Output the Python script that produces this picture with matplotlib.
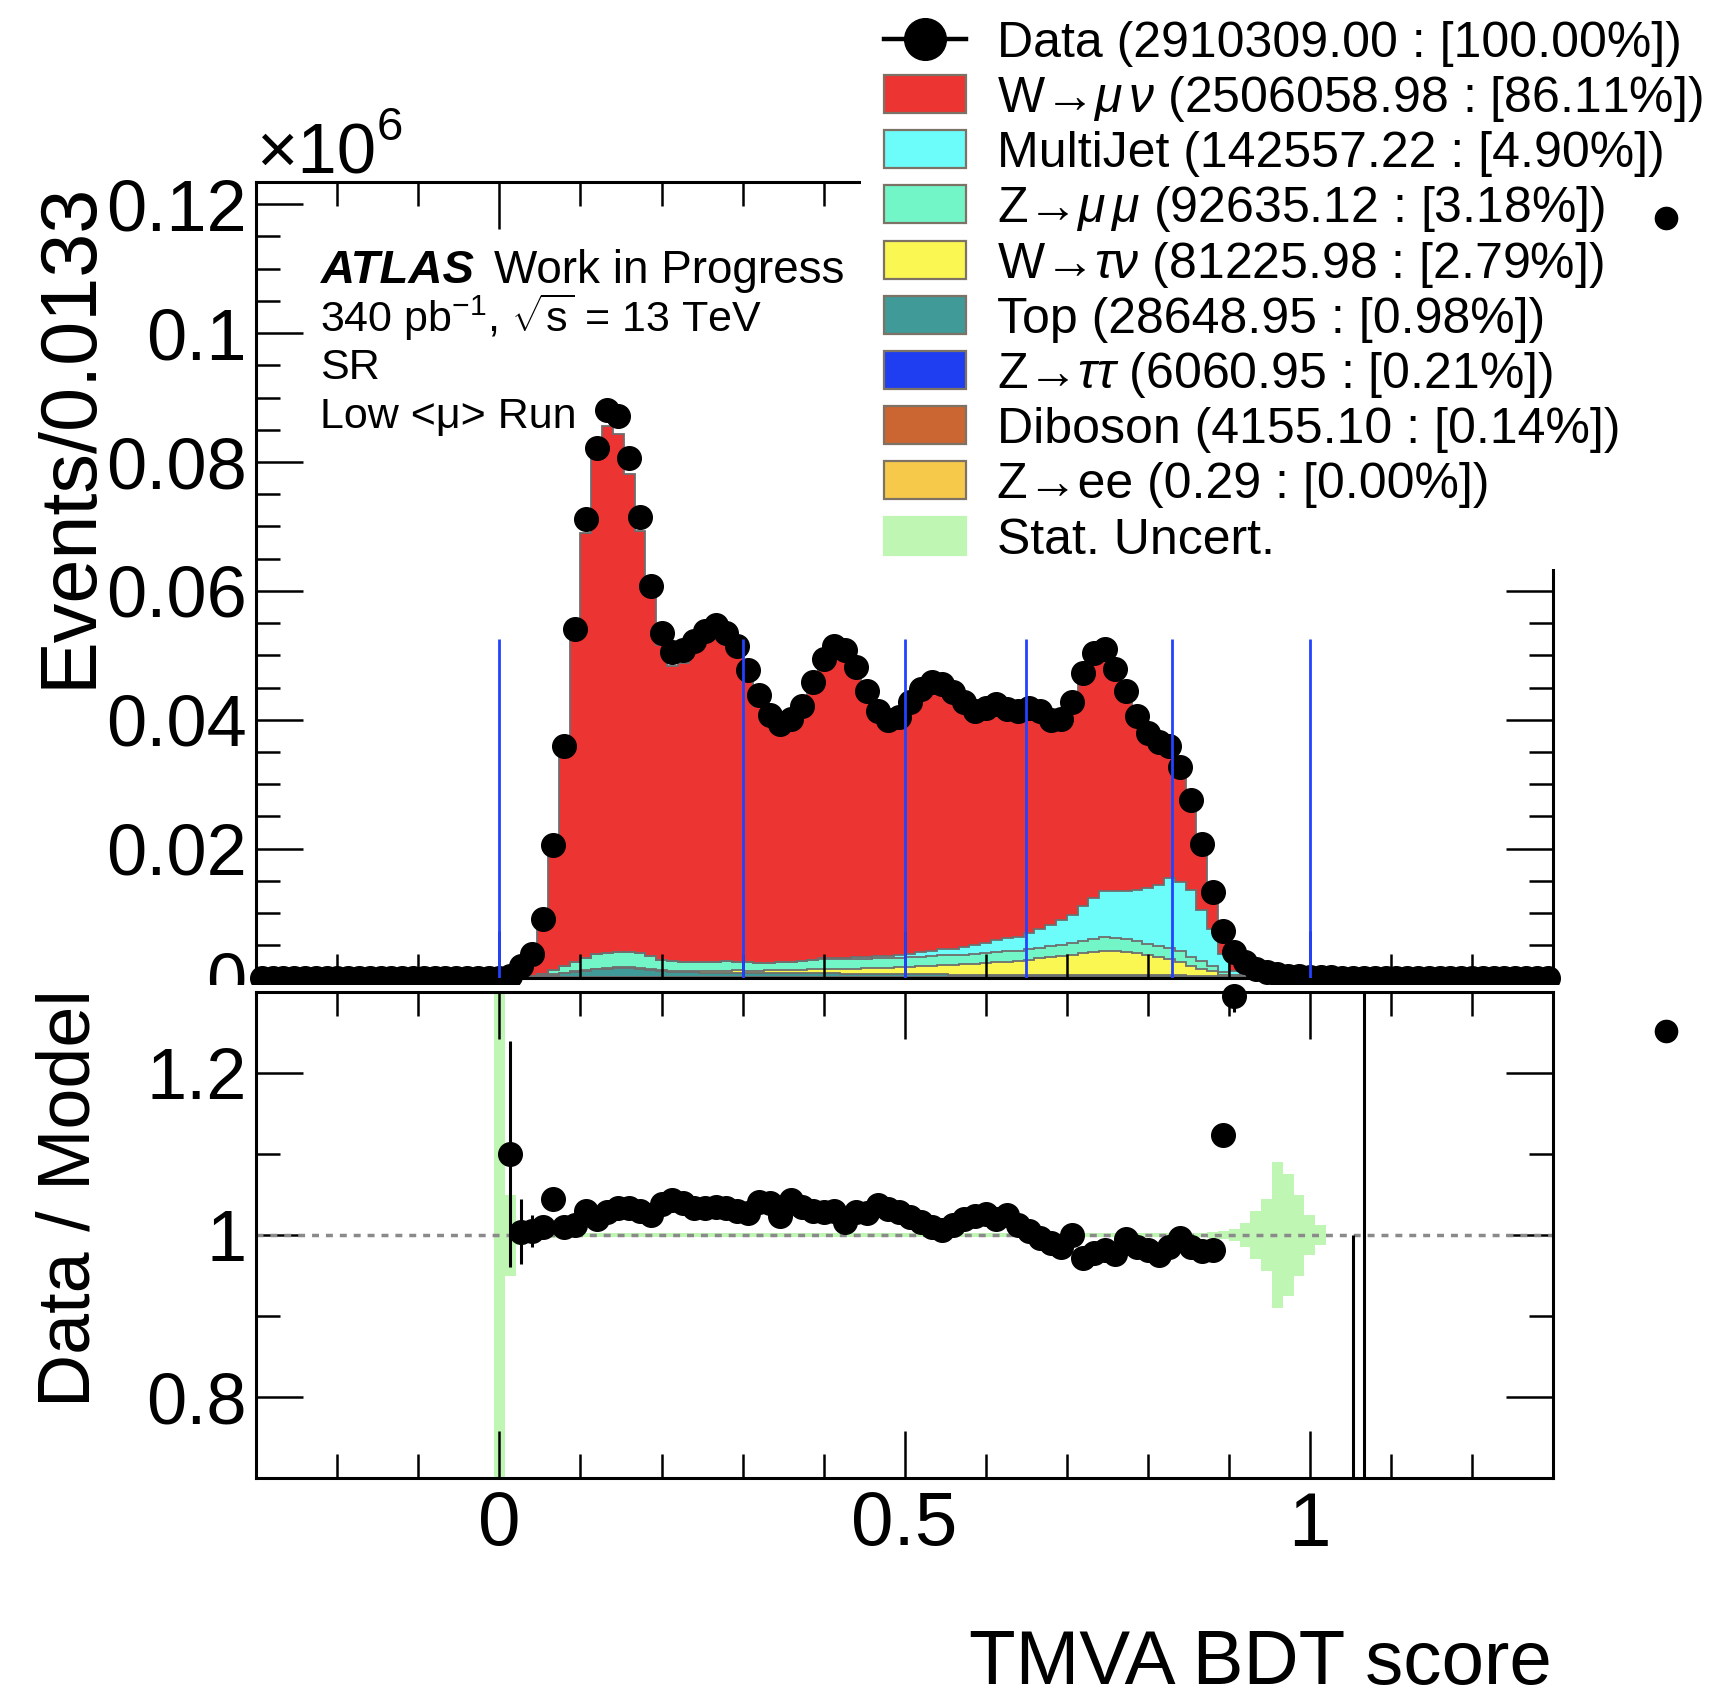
import numpy as np
import matplotlib
matplotlib.use("Agg")
import matplotlib.pyplot as plt
from matplotlib.patches import Rectangle
from matplotlib.lines import Line2D
from matplotlib.ticker import MultipleLocator, FixedLocator

plt.rcParams['font.family'] = ['Liberation Sans', 'DejaVu Sans']
plt.rcParams['mathtext.fontset'] = 'custom'
plt.rcParams['mathtext.rm'] = 'Liberation Sans'
plt.rcParams['mathtext.it'] = 'Liberation Sans:italic'
plt.rcParams['mathtext.bf'] = 'Liberation Sans:bold'

# Binning of the BDT score histogram
x_lo, x_hi, n_bins = -0.3, 1.3, 120
first_bin = 22  # bins below this are empty

# Bin contents (x1e6 events) for bins 22..99
data = [0.0, 0.0003, 0.0018, 0.0036, 0.0091, 0.0206, 0.0360, 0.0541, 0.0711, 0.0822,
        0.0880, 0.0871, 0.0807, 0.0714, 0.0608, 0.0535, 0.0505, 0.0508, 0.0523, 0.0538,
        0.0547, 0.0535, 0.0514, 0.0478, 0.0438, 0.0408, 0.0393, 0.0401, 0.0422, 0.0458,
        0.0495, 0.0514, 0.0508, 0.0482, 0.0445, 0.0414, 0.0399, 0.0405, 0.0428, 0.0448,
        0.0458, 0.0456, 0.0443, 0.0427, 0.0414, 0.0419, 0.0424, 0.0417, 0.0414, 0.0418,
        0.0414, 0.0400, 0.0401, 0.0428, 0.0472, 0.0503, 0.0510, 0.0479, 0.0445, 0.0406,
        0.0380, 0.0365, 0.0359, 0.0327, 0.0275, 0.0207, 0.0133, 0.0073, 0.0039, 0.0024,
        0.0013, 0.0008, 0.0005, 0.0003, 0.0002, 0.0001, 0.0001, 0.00005]

wmunu = [0.00002, 0.00027, 0.0018, 0.00337, 0.00845, 0.01854, 0.03377, 0.05109, 0.06604, 0.07699,
         0.08179, 0.0803, 0.0741, 0.0655, 0.0560, 0.04882, 0.04589, 0.0464, 0.04816, 0.04966,
         0.05043, 0.04929, 0.04747, 0.04417, 0.03977, 0.0369, 0.03605, 0.03605, 0.03814, 0.0417,
         0.04513, 0.04683, 0.04698, 0.04367, 0.04011, 0.03655, 0.03524, 0.03583, 0.03821, 0.04012,
         0.04118, 0.04096, 0.0393, 0.03709, 0.03536, 0.03547, 0.0358, 0.03461, 0.03464, 0.03472,
         0.0341, 0.03223, 0.03184, 0.03313, 0.03754, 0.03906, 0.03856, 0.03571, 0.03125, 0.02765,
         0.02483, 0.02307, 0.02098, 0.01806, 0.01435, 0.01065, 0.00599, 0.00279, 0.00192, 0.00085,
         0.00033, 0.0002, 0.0001, 0.00005, 0.00002, 0.00001, 0.000005, 0.0]

multijet = [0.0, 0.0, 0.0, 0.0, 0.0, 0.0, 0.0, 0.0, 0.0, 0.0,
            0.0, 0.0, 0.0, 0.0, 0.0, 0.0, 0.0, 0.0, 0.0, 0.0,
            0.0, 0.0, 0.0, 0.0, 0.0, 0.0, 0.0, 0.0, 0.0001, 0.0001,
            0.0002, 0.0002, 0.0002, 0.0003, 0.0003, 0.0004, 0.0004, 0.0005, 0.0005, 0.0007,
            0.0008, 0.0009, 0.0010, 0.0012, 0.0014, 0.0016, 0.0018, 0.0020, 0.0021, 0.0025,
            0.0028, 0.0033, 0.0038, 0.0043, 0.0054, 0.0064, 0.0071, 0.0072, 0.0075, 0.0079,
            0.0086, 0.0095, 0.0109, 0.0107, 0.0103, 0.0079, 0.0057, 0.0028, 0.0006, 0.0002,
            0.0001, 0.0, 0.0, 0.0, 0.0, 0.0, 0.0, 0.0]

zmumu = [0.0, 0.0, 0.00002, 0.0001, 0.0003, 0.0006, 0.0011, 0.0014, 0.0018, 0.0022,
         0.0023, 0.0024, 0.0024, 0.0023, 0.0020, 0.0016, 0.0015, 0.0014, 0.0014, 0.0014,
         0.0014, 0.0014, 0.0013, 0.0013, 0.0012, 0.0012, 0.0012, 0.0012, 0.0013, 0.0014,
         0.0015, 0.0015, 0.0015, 0.0015, 0.0015, 0.0015, 0.0015, 0.0015, 0.0015, 0.0015,
         0.0015, 0.0015, 0.0015, 0.0015, 0.0015, 0.0015, 0.0016, 0.0016, 0.0016, 0.0016,
         0.0017, 0.0017, 0.0017, 0.0018, 0.0019, 0.0020, 0.0021, 0.0021, 0.0020, 0.0019,
         0.0018, 0.0017, 0.0017, 0.0016, 0.0014, 0.0012, 0.0009, 0.0005, 0.0002, 0.0001,
         0.00005, 0.0, 0.0, 0.0, 0.0, 0.0, 0.0, 0.0]

wtaunu = [0.0, 0.0, 0.0, 0.00001, 0.00003, 0.0001, 0.0001, 0.0001, 0.00012, 0.00013,
          0.00014, 0.00015, 0.00015, 0.00015, 0.00015, 0.00015, 0.00016, 0.00018, 0.0002, 0.00025,
          0.0003, 0.00033, 0.00036, 0.0004, 0.00043, 0.00046, 0.0005, 0.00053, 0.00056, 0.0006,
          0.00065, 0.0007, 0.00075, 0.0008, 0.00085, 0.0009, 0.00095, 0.0010, 0.0011, 0.0012,
          0.0013, 0.0014, 0.0015, 0.0016, 0.0017, 0.0018, 0.0019, 0.0020, 0.0021, 0.0023,
          0.0025, 0.0027, 0.0029, 0.0031, 0.0033, 0.0035, 0.0037, 0.0037, 0.0036, 0.0034,
          0.0031, 0.0028, 0.0025, 0.0021, 0.0016, 0.0011, 0.0007, 0.0003, 0.0001, 0.00005,
          0.00002, 0.0, 0.0, 0.0, 0.0, 0.0, 0.0, 0.0]

top = [0.0, 0.0, 0.00002, 0.00005, 0.00015, 0.0003, 0.0005, 0.0007, 0.0009, 0.0011,
       0.0012, 0.0013, 0.0013, 0.0012, 0.0010, 0.0008, 0.0007, 0.0007, 0.0007, 0.0006,
       0.0006, 0.0006, 0.0006, 0.0005, 0.0005, 0.0005, 0.0005, 0.0005, 0.0005, 0.0005,
       0.0005, 0.0005, 0.0004, 0.0004, 0.0004, 0.0004, 0.0004, 0.0004, 0.0004, 0.0004,
       0.0004, 0.0004, 0.0003, 0.0003, 0.0003, 0.0003, 0.0003, 0.0003, 0.0003, 0.0003,
       0.0003, 0.0003, 0.0003, 0.0003, 0.0003, 0.0003, 0.0003, 0.0002, 0.0002, 0.0002,
       0.0002, 0.0002, 0.0002, 0.0002, 0.0001, 0.0001, 0.0001, 0.00005, 0.00002, 0.0,
       0.0, 0.0, 0.0, 0.0, 0.0, 0.0, 0.0, 0.0]

ztautau = [0.0, 0.0, 0.0, 0.00005, 0.00005, 0.0001, 0.0001, 0.0001, 0.0001, 0.0001,
           0.0001, 0.0001, 0.0001, 0.0001, 0.0001, 0.0001, 0.0001, 0.0001, 0.0001, 0.0001,
           0.0001, 0.0001, 0.0001, 0.0001, 0.0001, 0.0001, 0.0001, 0.0001, 0.0001, 0.0001,
           0.0001, 0.0001, 0.0001, 0.0001, 0.0001, 0.0001, 0.0001, 0.0001, 0.0001, 0.0001,
           0.0001, 0.0001, 0.0001, 0.0001, 0.0001, 0.0001, 0.0001, 0.0001, 0.0001, 0.0001,
           0.0001, 0.0001, 0.0001, 0.0001, 0.0001, 0.0001, 0.0001, 0.0001, 0.0001, 0.0001,
           0.0001, 0.0001, 0.0001, 0.0001, 0.0001, 0.0001, 0.0001, 0.00005, 0.00005, 0.0,
           0.0, 0.0, 0.0, 0.0, 0.0, 0.0, 0.0, 0.0]

diboson = [0.0, 0.0, 0.0, 0.0, 0.00003, 0.00007, 0.00007, 0.00007, 0.00007, 0.00007,
           0.00007, 0.00007, 0.00007, 0.00007, 0.00007, 0.00007, 0.00007, 0.00007, 0.00007, 0.00007,
           0.00007, 0.00007, 0.00007, 0.00007, 0.00007, 0.00007, 0.00007, 0.00007, 0.00007, 0.00007,
           0.00007, 0.00007, 0.00007, 0.00007, 0.00007, 0.00007, 0.00007, 0.00007, 0.00007, 0.00007,
           0.00007, 0.00007, 0.00007, 0.00007, 0.00007, 0.00007, 0.00007, 0.00007, 0.00007, 0.00007,
           0.00007, 0.00007, 0.00007, 0.00007, 0.00007, 0.00007, 0.00007, 0.00007, 0.00007, 0.00007,
           0.00007, 0.00007, 0.00007, 0.00007, 0.00007, 0.00007, 0.00007, 0.00003, 0.0, 0.0,
           0.0, 0.0, 0.0, 0.0, 0.0, 0.0, 0.0, 0.0]

zee = [0.0, 0.0, 0.0, 0.0, 0.0, 0.0, 0.0, 0.0, 0.0, 0.0,
       0.0, 0.0, 0.0, 0.0, 0.0, 0.0, 0.0, 0.0, 0.0, 0.0,
       0.0, 0.0, 0.0, 0.0, 0.0, 0.0, 0.0, 0.0, 0.0, 0.0,
       0.0, 0.0, 0.0, 0.0, 0.0, 0.0, 0.0, 0.0, 0.0, 0.0,
       0.0, 0.0, 0.0, 0.0, 0.0, 0.0, 0.0, 0.0, 0.0, 0.0,
       0.0, 0.0, 0.0, 0.0, 0.0, 0.0, 0.0, 0.0, 0.0, 0.0,
       0.0, 0.0, 0.00000029, 0.0, 0.0, 0.0, 0.0, 0.0, 0.0, 0.0,
       0.0, 0.0, 0.0, 0.0, 0.0, 0.0, 0.0, 0.0]

# Data / model ratio for bins 23..90 and its error
ratio_first = 23
ratio = [1.100, 1.004, 1.005, 1.010, 1.045, 1.010, 1.012, 1.030, 1.020,
         1.028, 1.033, 1.033, 1.030, 1.025, 1.038, 1.043, 1.040, 1.033, 1.033,
         1.034, 1.033, 1.030, 1.027, 1.041, 1.040, 1.023, 1.043, 1.035, 1.030,
         1.028, 1.030, 1.016, 1.029, 1.027, 1.037, 1.032, 1.028, 1.022, 1.016,
         1.010, 1.006, 1.012, 1.020, 1.024, 1.026, 1.020, 1.025, 1.012, 1.005,
         0.996, 0.990, 0.985, 1.000, 0.971, 0.978, 0.982, 0.976, 0.995, 0.985,
         0.982, 0.975, 0.985, 0.996, 0.985, 0.980, 0.981, 1.124, 1.295]
ratio_err = [0.14, 0.04, 0.02, 0.012, 0.008, 0.006, 0.005, 0.005, 0.004,
             0.004, 0.004, 0.004, 0.004, 0.004, 0.004, 0.004, 0.004, 0.004, 0.004,
             0.004, 0.004, 0.004, 0.004, 0.004, 0.004, 0.004, 0.004, 0.004, 0.004,
             0.004, 0.004, 0.004, 0.004, 0.004, 0.004, 0.004, 0.004, 0.004, 0.004,
             0.004, 0.004, 0.004, 0.004, 0.004, 0.004, 0.004, 0.004, 0.004, 0.004,
             0.004, 0.004, 0.004, 0.004, 0.004, 0.004, 0.004, 0.004, 0.004, 0.005,
             0.005, 0.005, 0.005, 0.006, 0.006, 0.007, 0.009, 0.013, 0.02]

# Relative MC stat. uncertainty for bins 22..98
band_err = [0.8, 0.05, 0.012, 0.008, 0.005, 0.004, 0.003, 0.003, 0.003, 0.003,
            0.003, 0.003, 0.003, 0.003, 0.003, 0.003, 0.003, 0.003, 0.003, 0.003,
            0.003, 0.003, 0.003, 0.003, 0.003, 0.003, 0.003, 0.003, 0.003, 0.003,
            0.003, 0.003, 0.003, 0.003, 0.003, 0.003, 0.003, 0.003, 0.003, 0.003,
            0.003, 0.003, 0.003, 0.003, 0.003, 0.003, 0.003, 0.003, 0.003, 0.003,
            0.003, 0.003, 0.003, 0.003, 0.003, 0.003, 0.003, 0.003, 0.003, 0.003,
            0.003, 0.003, 0.003, 0.003, 0.003, 0.003, 0.004, 0.005, 0.008, 0.015,
            0.03, 0.045, 0.09, 0.075, 0.05, 0.025, 0.012]

# Empty data bins with a tiny prediction: ratio 0 with large upper error
tail_bins = [101, 102]
tail_hi = [1.0, 1.5]

# BDT category boundaries
bdt_cuts = [0.0, 0.3, 0.5, 0.65, 0.83, 1.0]
cut_height = 0.0525

sample_names = ['W→$\\mu\\,\\nu$', 'MultiJet', 'Z→$\\mu\\,\\mu$', 'W→$\\tau\\nu$', 'Top',
                'Z→$\\tau\\tau$', 'Diboson', 'Z→ee']
sample_yields = [2506058.98, 142557.22, 92635.12, 81225.98, 28648.95, 6060.95, 4155.10, 0.29]
sample_colors = ['#ec3532', '#6cfcfa', '#72f6c8', '#fbf752', '#409a98', '#1f3ef2', '#cb6532', '#f7c94b']
data_yield = 2910309.00
stat_color = '#c0f6b4'
edge_grey = '#6e6e6e'

# ---------------------------------------------------------------
W, H = 1732, 1703


def fx(px):
    return px / W


def fy(py):
    return 1 - py / H


edges = np.linspace(x_lo, x_hi, n_bins + 1)
centers = 0.5 * (edges[:-1] + edges[1:])
n_fill = len(data)
sub_edges = edges[first_bin:first_bin + n_fill + 1]

data_all = np.zeros(n_bins)
data_all[first_bin:first_bin + n_fill] = data

# stack from bottom to top
stack = np.array([zee, diboson, ztautau, top, wtaunu, zmumu, multijet, wmunu])
stack_colors = sample_colors[::-1]
cum = np.cumsum(stack, axis=0)

fig = plt.figure(figsize=(W / 100, H / 100), dpi=100)
ax = fig.add_axes([fx(256.3), fy(977.6), (1553 - 256.3) / W, (977.6 - 181.7) / H], zorder=0)
rax = fig.add_axes([fx(256.3), fy(1478), (1553 - 256.3) / W, (1478 - 992) / H], zorder=2)

# main panel
for i in reversed(range(len(stack))):
    ax.stairs(cum[i], sub_edges, fill=True, facecolor=stack_colors[i], edgecolor='none', lw=0, zorder=1)
    ax.stairs(cum[i], sub_edges, color=edge_grey, lw=1.3, zorder=1.2)

ax.plot(centers, data_all, ls='none', marker='o', ms=17, color='black', clip_on=False, zorder=5)
ax.vlines(bdt_cuts, 0, cut_height, colors='#2342ff', lw=2.0, zorder=6)

ax.set_xlim(x_lo, x_hi)
ax.set_ylim(0, 0.1235)
ax.set_xticks([0, 0.5, 1])
ax.xaxis.set_minor_locator(MultipleLocator(0.1))
ax.set_yticks([0, 0.02, 0.04, 0.06, 0.08, 0.1, 0.12],
              ['0', '0.02', '0.04', '0.06', '0.08', '0.1', '0.12'])
ax.yaxis.set_minor_locator(MultipleLocator(0.005))
ax.tick_params(which='both', direction='in', top=True, right=True, width=1.8, labelsize=52, pad=7)
ax.tick_params(which='major', length=34)
ax.tick_params(which='minor', length=17)
ax.tick_params(axis='x', labelbottom=False)

# ratio panel
ratio_band_edges = edges[first_bin:first_bin + len(band_err) + 1]
berr = np.array(band_err)
rax.stairs(1 + berr, ratio_band_edges, baseline=1 - berr, fill=True, facecolor=stat_color,
           edgecolor='none', lw=0, zorder=1)
rax.axhline(1.0, color='#8a8a8a', lw=2.5, ls=(0, (2.0, 2.0)), zorder=2)

rx = centers[ratio_first:ratio_first + len(ratio)]
rv = np.array(ratio)
re = np.array(ratio_err)
rax.vlines(rx, rv - re, rv + re, colors='black', lw=2.2, zorder=3)
rax.plot(rx, rv, ls='none', marker='o', ms=17, color='black', clip_on=False, zorder=4)
rax.vlines(centers[tail_bins], 0.0, tail_hi, colors='black', lw=2.2, zorder=3)

rax.set_xlim(x_lo, x_hi)
rax.set_ylim(0.7, 1.3)
rax.set_xticks([0, 0.5, 1], ['0', '0.5', '1'])
rax.xaxis.set_minor_locator(MultipleLocator(0.1))
rax.set_yticks([0.8, 1.0, 1.2], ['0.8', '1', '1.2'])
rax.yaxis.set_minor_locator(FixedLocator([0.9, 1.1]))
rax.tick_params(which='both', direction='in', top=True, right=True, width=1.8, labelsize=52)
rax.tick_params(which='major', length=34)
rax.tick_params(which='minor', length=17)
rax.tick_params(axis='x', labelsize=55, pad=9)
rax.tick_params(axis='y', pad=7)

for a in (ax, rax):
    for sp in a.spines.values():
        sp.set_linewidth(2.2)

# white pad for the lower panel and behind the legend
fig.add_artist(Rectangle((0, 0), 1, fy(985), transform=fig.transFigure,
                         facecolor='white', edgecolor='none', zorder=1))
fig.add_artist(Rectangle((fx(861), fy(569)), 1 - fx(861), 1 - fy(569), transform=fig.transFigure,
                         facecolor='white', edgecolor='none', zorder=1))

# axis titles
fig.text(fx(70), fy(182), 'Events/0.0133', rotation=90, ha='center', va='top', fontsize=57)
fig.text(fx(70), fy(989), 'Data / Model', rotation=90, ha='center', va='top', fontsize=53)
fig.text(fx(1552), fy(1684), 'TMVA BDT score', ha='right', va='baseline', fontsize=55)
fig.text(fx(256), fy(174), '×10', ha='left', va='baseline', fontsize=51)
fig.text(fx(377), fy(140), '6', ha='left', va='baseline', fontsize=34)

# ATLAS label block
tr = fig.transFigure
ax.text(fx(321), fy(283), 'ATLAS', transform=tr, fontsize=34, weight='bold', style='italic', zorder=4)
ax.text(fx(494), fy(283), 'Work in Progress', transform=tr, fontsize=33, zorder=4)
ax.text(fx(320), fy(332), '340 pb$^{-1}$, $\\sqrt{\\mathrm{s}}$ = 13 TeV', transform=tr, fontsize=31, zorder=4)
ax.text(fx(320), fy(379), 'SR', transform=tr, fontsize=31, zorder=4)
ax.text(fx(320), fy(428), 'Low <μ> Run', transform=tr, fontsize=31, zorder=4)

# legend
leg_y0, leg_dy, box_h = 38.7, 55.2, 38
box_x0, box_x1, text_x = 884, 966, 997
labels = ['Data ({:.2f} : [{:.2f}%])'.format(data_yield, 100.0)]
labels += ['{} ({:.2f} : [{:.2f}%])'.format(n, y, 100 * y / data_yield)
           for n, y in zip(sample_names, sample_yields)]
labels += ['Stat. Uncert.']
box_colors = [None] + sample_colors + [stat_color]

for i, lab in enumerate(labels):
    yc = leg_y0 + i * leg_dy
    if i == 0:
        fig.add_artist(Line2D([fx(box_x0), fx(box_x1)], [fy(yc), fy(yc)], color='black', lw=3.2,
                              transform=tr, zorder=4))
        fig.add_artist(Line2D([fx((box_x0 + box_x1) / 2)], [fy(yc)], marker='o', ms=30,
                              color='black', transform=tr, zorder=4))
    else:
        ec = box_colors[i] if lab.startswith('Stat') else '#7d7266'
        fig.add_artist(Rectangle((fx(box_x0), fy(yc + box_h / 2)), (box_x1 - box_x0) / W, box_h / H,
                                 facecolor=box_colors[i], edgecolor=ec, lw=1.6,
                                 transform=tr, zorder=4))
    fig.text(fx(text_x), fy(yc + 18), lab, ha='left', va='baseline', fontsize=36, zorder=4)

# stray bullet marks at the right edge
for by in (217.6, 1030.6):
    fig.add_artist(Line2D([fx(1666)], [fy(by)], marker='o', ms=16, color='black', transform=tr, zorder=4))

fig.savefig('out.png', dpi=100)
